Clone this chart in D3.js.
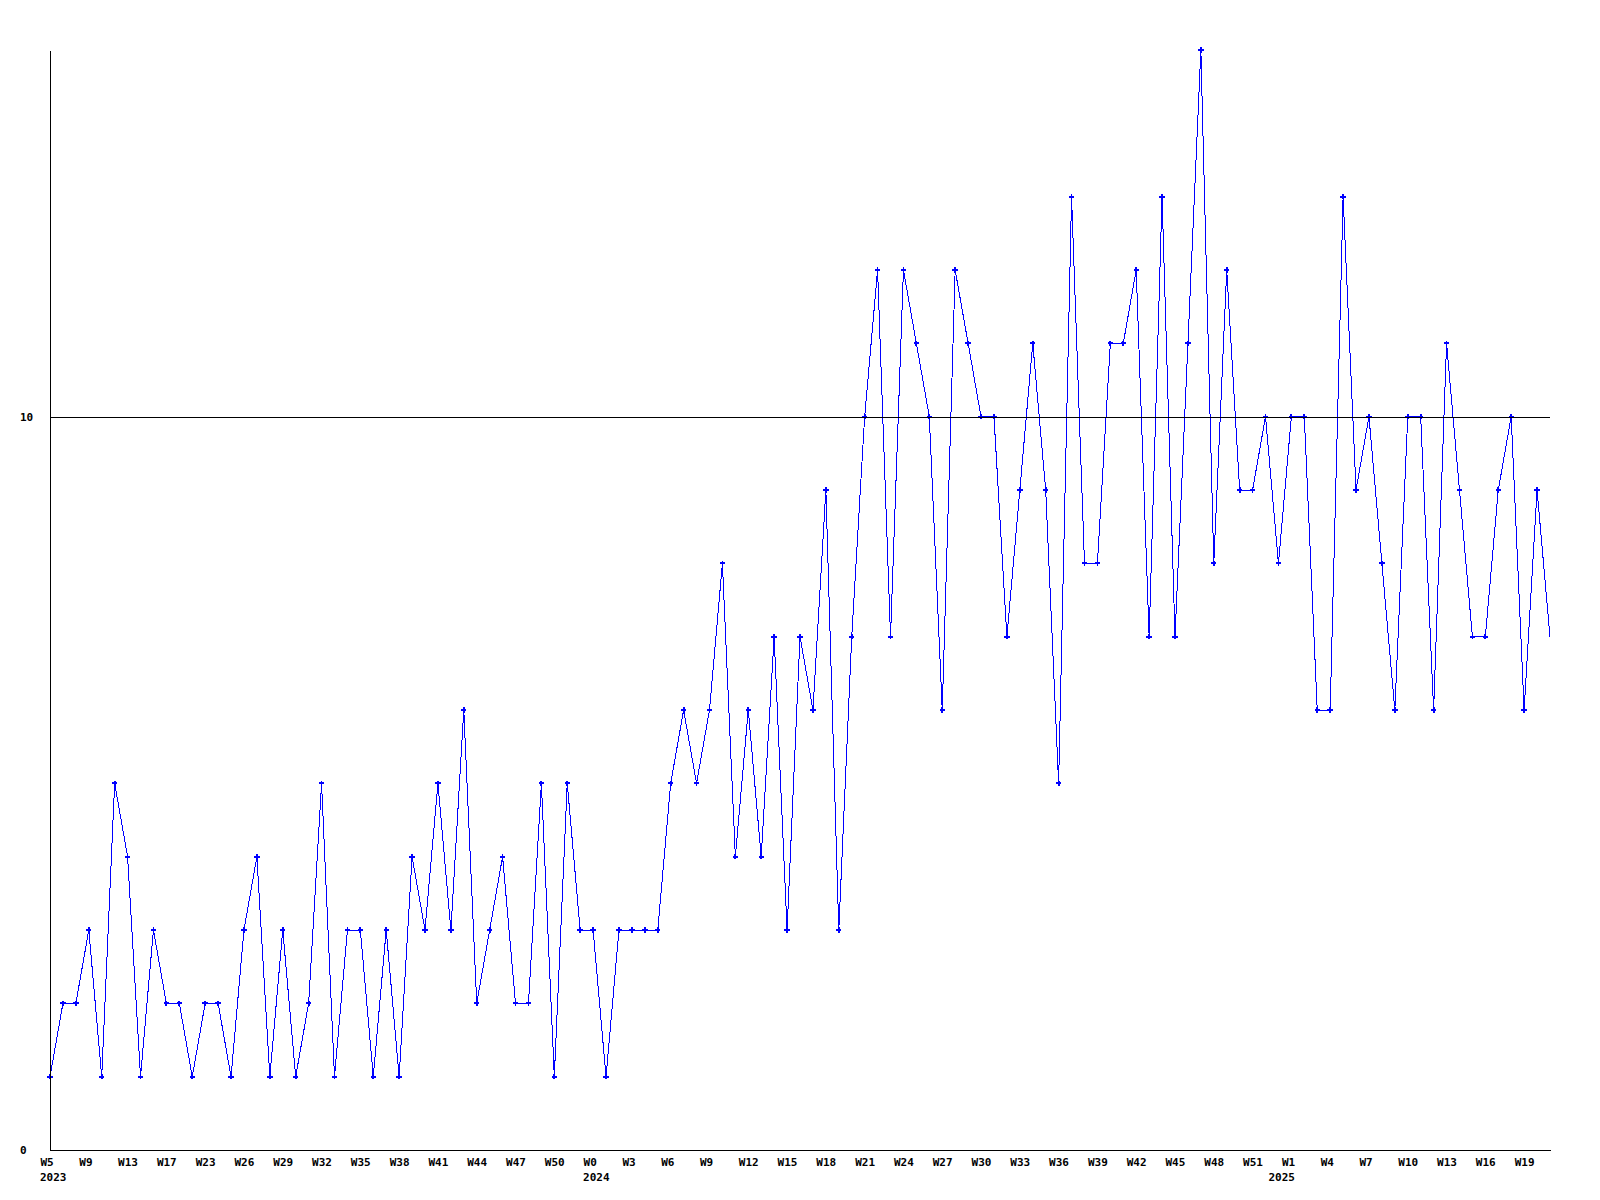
<!DOCTYPE html>
<html>
<head>
<meta charset="utf-8">
<script src="https://cdn.jsdelivr.net/npm/d3@7"></script>
<style>
  html, body { margin: 0; padding: 0; background: #ffffff; }
  svg { display: block; }
  text { font-family: "DejaVu Sans Mono", "Liberation Mono", monospace; font-weight: bold; font-size: 11px; fill: #000; }
</style>
</head>
<body>
<svg id="chart" width="1600" height="1200"></svg>
<script>
// ---- data ----
const years = ["2023", "2023", "2023", "2023", "2023", "2023", "2023", "2023", "2023", "2023",
  "2023", "2023", "2023", "2023", "2023", "2023", "2023", "2023", "2023", "2023",
  "2023", "2023", "2023", "2023", "2023", "2023", "2023", "2023", "2023", "2023",
  "2023", "2023", "2023", "2023", "2023", "2023", "2023", "2023", "2023", "2023",
  "2023", "2023",
  "2024", "2024", "2024", "2024", "2024", "2024", "2024", "2024", "2024", "2024",
  "2024", "2024", "2024", "2024", "2024", "2024", "2024", "2024", "2024", "2024",
  "2024", "2024", "2024", "2024", "2024", "2024", "2024", "2024", "2024", "2024",
  "2024", "2024", "2024", "2024", "2024", "2024", "2024", "2024", "2024", "2024",
  "2024", "2024", "2024", "2024", "2024", "2024", "2024", "2024", "2024", "2024",
  "2024", "2024", "2024",
  "2025", "2025", "2025", "2025", "2025", "2025", "2025", "2025", "2025", "2025",
  "2025", "2025", "2025", "2025", "2025", "2025", "2025", "2025", "2025", "2025",
  "2025", "2025"];
const weeks = ["W5", "W6", "W8", "W9", "W10", "W12", "W13", "W14", "W16", "W17",
  "W19", "W21", "W23", "W24", "W25", "W26", "W27", "W28", "W29", "W30",
  "W31", "W32", "W33", "W34", "W35", "W36", "W37", "W38", "W39", "W40",
  "W41", "W42", "W43", "W44", "W45", "W46", "W47", "W48", "W49", "W50",
  "W51", "W52",
  "W0", "W1", "W2", "W3", "W4", "W5", "W6", "W7", "W8", "W9",
  "W10", "W11", "W12", "W13", "W14", "W15", "W16", "W17", "W18", "W19",
  "W20", "W21", "W22", "W23", "W24", "W25", "W26", "W27", "W28", "W29",
  "W30", "W31", "W32", "W33", "W34", "W35", "W36", "W37", "W38", "W39",
  "W40", "W41", "W42", "W43", "W44", "W45", "W46", "W47", "W48", "W49",
  "W50", "W51", "W52",
  "W0", "W1", "W2", "W3", "W4", "W5", "W6", "W7", "W8", "W9",
  "W10", "W11", "W12", "W13", "W14", "W15", "W16", "W17", "W18", "W19",
  "W20", "W21"];
const values = [1, 2, 2, 3, 1, 5, 4, 1, 3, 2,
  2, 1, 2, 2, 1, 3, 4, 1, 3, 1,
  2, 5, 1, 3, 3, 1, 3, 1, 4, 3,
  5, 3, 6, 2, 3, 4, 2, 2, 5, 1,
  5, 3, 3, 1, 3, 3, 3, 3, 5, 6,
  5, 6, 8, 4, 6, 4, 7, 3, 7, 6,
  9, 3, 7, 10, 12, 7, 12, 11, 10, 6,
  12, 11, 10, 10, 7, 9, 11, 9, 5, 13,
  8, 8, 11, 11, 12, 7, 13, 7, 11, 15,
  8, 12, 9, 9, 10, 8, 10, 10, 6, 6,
  13, 9, 10, 8, 6, 10, 10, 6, 11, 9,
  7, 7, 9, 10, 6, 9, 7];
const yTickValues = [0, 10];
const referenceValue = 10;
const tickEvery = 3;

// ---- chart ----
(function () {
const categories = weeks.map((w, i) => years[i] + "-" + w);
const data = categories.map((c, i) => ({ key: c, week: weeks[i], year: years[i], value: values[i], i: i }));

const svg = d3.select("#chart");
const mLeft = 50, mRight = 1550, mTop = 50, mBottom = 1150;

const x = d3.scalePoint().domain(categories).range([mLeft, mRight]);
const y = d3.scaleLinear().domain([0, 15]).range([mBottom, mTop]);

// tick positions: every 3rd point
const tickKeys = categories.filter((c, i) => i % tickEvery === 0);
// year labels go under the first data point of each year
const yearStarts = categories.filter((c, i) => i === 0 || years[i] !== years[i - 1]);

// series line
const line = d3.line().x(d => x(d.key)).y(d => y(d.value));
svg.append("path")
  .datum(data)
  .attr("d", line)
  .attr("fill", "none")
  .attr("stroke", "#0000ff")
  .attr("stroke-width", 1)
  .attr("shape-rendering", "crispEdges");

// markers (last, incomplete point has none)
svg.append("g").selectAll("path")
  .data(data.slice(0, data.length - 1))
  .join("path")
  .attr("transform", d => `translate(${x(d.key)},${y(d.value)})`)
  .attr("d", d3.symbol(d3.symbolCross, 16))
  .attr("fill", "#0000ff")
  .attr("shape-rendering", "crispEdges");

// reference line at 10
svg.append("line")
  .attr("x1", mLeft).attr("x2", mRight)
  .attr("y1", Math.round(y(referenceValue)) + 0.5).attr("y2", Math.round(y(referenceValue)) + 0.5)
  .attr("stroke", "#000").attr("stroke-width", 1)
  .attr("shape-rendering", "crispEdges");

// x axis
const xAxis = d3.axisBottom(x)
  .tickValues(tickKeys)
  .tickSize(0)
  .tickFormat(k => k.split("-")[1]);
const gx = svg.append("g")
  .attr("transform", `translate(0,${mBottom})`)
  .call(xAxis);
gx.select(".domain").attr("stroke", "#000").attr("shape-rendering", "crispEdges");
gx.selectAll(".tick text")
  .attr("text-anchor", "start")
  .attr("x", -10)
  .attr("y", 16)
  .attr("dy", null);
gx.attr("font-family", null).attr("font-size", null);

// year labels
gx.append("g").selectAll("text")
  .data(yearStarts)
  .join("text")
  .attr("fill", "#000")
  .attr("text-anchor", "start")
  .attr("x", k => x(k) - 10)
  .attr("y", 31)
  .text(k => k.split("-")[0]);

// y axis
const yAxis = d3.axisLeft(y)
  .tickValues(yTickValues)
  .tickSize(0)
  .tickFormat(d3.format("d"));
const gy = svg.append("g")
  .attr("transform", `translate(${mLeft},0)`)
  .call(yAxis);
gy.select(".domain").attr("stroke", "#000").attr("shape-rendering", "crispEdges");
gy.selectAll(".tick text")
  .attr("text-anchor", "start")
  .attr("x", -30)
  .attr("dy", "0.35em");
gy.attr("font-family", null).attr("font-size", null);
})();
</script>
</body>
</html>
